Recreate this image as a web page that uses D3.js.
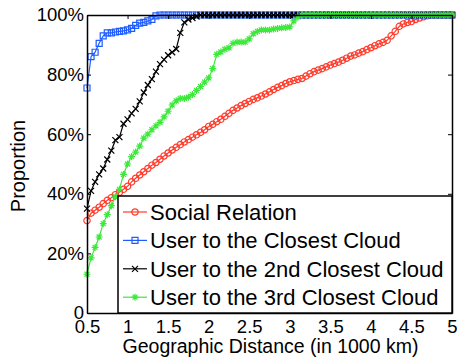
<!DOCTYPE html>
<html>
<head>
<meta charset="utf-8">
<script src="https://cdn.jsdelivr.net/npm/d3@7"></script>
<style>
  body { margin: 0; background: #fff; }
  text { font-family: "Liberation Sans", Arial, sans-serif; fill: #000; }
</style>
</head>
<body>
<div id="chart"></div>
<script>
// Data (distance in 1000 km, cumulative proportion)

const distance = [
  0.5, 0.55, 0.6, 0.65, 0.7, 0.75, 0.8, 0.85, 0.9, 0.95,
  1, 1.05, 1.1, 1.15, 1.2, 1.25, 1.3, 1.35, 1.4, 1.45,
  1.5, 1.55, 1.6, 1.65, 1.7, 1.75, 1.8, 1.85, 1.9, 1.95,
  2, 2.05, 2.1, 2.15, 2.2, 2.25, 2.3, 2.35, 2.4, 2.45,
  2.5, 2.55, 2.6, 2.65, 2.7, 2.75, 2.8, 2.85, 2.9, 2.95,
  3, 3.05, 3.1, 3.15, 3.2, 3.25, 3.3, 3.35, 3.4, 3.45,
  3.5, 3.55, 3.6, 3.65, 3.7, 3.75, 3.8, 3.85, 3.9, 3.95,
  4, 4.05, 4.1, 4.15, 4.2, 4.25, 4.3, 4.35, 4.4, 4.45,
  4.5, 4.55, 4.6, 4.65, 4.7, 4.75, 4.8, 4.85, 4.9, 4.95,
  5
];

const socialRelation = [
  0.31, 0.335, 0.345, 0.355, 0.367, 0.378, 0.387, 0.397, 0.405, 0.415,
  0.425, 0.44, 0.452, 0.463, 0.474, 0.485, 0.496, 0.505, 0.516, 0.527,
  0.537, 0.547, 0.556, 0.565, 0.574, 0.582, 0.59, 0.598, 0.606, 0.615,
  0.626, 0.633, 0.642, 0.65, 0.66, 0.67, 0.68, 0.688, 0.696, 0.703,
  0.71, 0.717, 0.722, 0.728, 0.735, 0.742, 0.75, 0.757, 0.763, 0.77,
  0.776, 0.78, 0.784, 0.787, 0.795, 0.803, 0.81, 0.815, 0.82, 0.826,
  0.832, 0.837, 0.842, 0.848, 0.855, 0.862, 0.866, 0.872, 0.877, 0.884,
  0.89, 0.897, 0.903, 0.908, 0.915, 0.93, 0.945, 0.962, 0.97, 0.975,
  0.978, 0.985, 0.99, 0.994, 0.998, 1, 1, 1, 1, 1,
  1
];

const closestCloud = [
  0.755, 0.86, 0.875, 0.905, 0.93, 0.94, 0.94, 0.943, 0.945, 0.947,
  0.95, 0.955, 0.965, 0.973, 0.975, 0.98, 0.985, 0.997, 1, 1,
  1, 1, 1, 1, 1, 1, 1, 1, 1, 1,
  1, 1, 1, 1, 1, 1, 1, 1, 1, 1,
  1, 1, 1, 1, 1, 1, 1, 1, 1, 1,
  1, 1, 1, 1, 1, 1, 1, 1, 1, 1,
  1, 1, 1, 1, 1, 1, 1, 1, 1, 1,
  1, 1, 1, 1, 1, 1, 1, 1, 1, 1,
  1, 1, 1, 1, 1, 1, 1, 1, 1, 1,
  1
];

const secondClosestCloud = [
  0.35, 0.41, 0.44, 0.465, 0.485, 0.515, 0.545, 0.58, 0.59, 0.635,
  0.65, 0.67, 0.685, 0.71, 0.74, 0.765, 0.785, 0.81, 0.835, 0.85,
  0.865, 0.875, 0.886, 0.94, 0.975, 0.985, 0.99, 0.995, 1, 1,
  1, 1, 1, 1, 1, 1, 1, 1, 1, 1,
  1, 1, 1, 1, 1, 1, 1, 1, 1, 1,
  1, 1, 1, 1, 1, 1, 1, 1, 1, 1,
  1, 1, 1, 1, 1, 1, 1, 1, 1, 1,
  1, 1, 1, 1, 1, 1, 1, 1, 1, 1,
  1, 1, 1, 1, 1, 1, 1, 1, 1, 1,
  1
];

const thirdClosestCloud = [
  0.13, 0.185, 0.22, 0.255, 0.3, 0.33, 0.36, 0.39, 0.415, 0.465,
  0.5, 0.525, 0.54, 0.56, 0.587, 0.6, 0.615, 0.628, 0.64, 0.658,
  0.677, 0.698, 0.712, 0.72, 0.72, 0.724, 0.733, 0.747, 0.76, 0.775,
  0.789, 0.82, 0.868, 0.876, 0.885, 0.89, 0.905, 0.909, 0.909, 0.909,
  0.92, 0.937, 0.945, 0.95, 0.95, 0.95, 0.953, 0.955, 0.957, 0.958,
  0.96, 0.98, 0.993, 1, 1, 1, 1, 1, 1, 1,
  1, 1, 1, 1, 1, 1, 1, 1, 1, 1,
  1, 1, 1, 1, 1, 1, 1, 1, 1, 1,
  1, 1, 1, 1, 1, 1, 1, 1, 1, 1,
  1
];

const seriesNames = [
  "Social Relation",
  "User to the Closest Cloud",
  "User to the 2nd Closest Cloud",
  "User to the 3rd Closest Cloud",
];
const xTicks = [0.5, 1, 1.5, 2, 2.5, 3, 3.5, 4, 4.5, 5];
const yTicks = [0, 0.2, 0.4, 0.6, 0.8, 1];

// Styles

const seriesValues = [socialRelation, closestCloud, secondClosestCloud, thirdClosestCloud];
const seriesColors = ["#ff3b2b", "#1f5cff", "#000000", "#3ce83a"];
const seriesMarkers = ["circle", "square", "times", "asterisk"];

function markerPath(type) {
  if (type === "circle") return d3.symbol(d3.symbolCircle, 32)();
  if (type === "square") return "M-3,-3H3V3H-3Z";
  if (type === "times") return "M-3,-3L3,3M-3,3L3,-3";
  return "M-3.5,0H3.5M0,-3.5V3.5M-2.5,-2.5L2.5,2.5M-2.5,2.5L2.5,-2.5";
}

// Core chart

const width = 457;
const height = 363;
const margin = { top: 15, right: 5, bottom: 50, left: 87 };

const svg = d3
  .select("#chart")
  .append("svg")
  .attr("width", width)
  .attr("height", height);

const xScale = d3
  .scaleLinear()
  .domain([0.5, 5])
  .range([margin.left, width - margin.right]);

const yScale = d3
  .scaleLinear()
  .domain([0, 1])
  .range([height - margin.bottom, margin.top]);

const line = d3
  .line()
  .x(function (d) { return xScale(d[0]); })
  .y(function (d) { return yScale(d[1]); });

seriesValues.forEach(function (values, i) {
  const points = distance.map(function (x, j) { return [x, values[j]]; });
  const g = svg.append("g");

  g.append("path")
    .datum(points)
    .attr("d", line)
    .attr("fill", "none")
    .attr("stroke", seriesColors[i])
    .attr("stroke-width", 1.2);

  g.selectAll("path.marker")
    .data(points)
    .enter()
    .append("path")
    .attr("class", "marker")
    .attr("transform", function (d) {
      return `translate(${xScale(d[0])},${yScale(d[1])})`;
    })
    .attr("d", markerPath(seriesMarkers[i]))
    .attr("fill", "none")
    .attr("stroke", seriesColors[i])
    .attr("stroke-width", 1.2);
});

// Axis (ticks point inward, box all round)

const yFormat = function (d) {
  return d === 0 ? "0" : Math.round(d * 100) + "%";
};

svg
  .append("g")
  .attr("transform", `translate(0, ${height - margin.bottom})`)
  .call(
    d3.axisBottom(xScale).tickValues(xTicks).tickSize(-4).tickSizeOuter(0).tickPadding(7)
      .tickFormat(function (d) { return String(d); })
  );

svg
  .append("g")
  .attr("transform", `translate(0, ${margin.top})`)
  .call(d3.axisTop(xScale).tickValues(xTicks).tickSize(-4).tickSizeOuter(0).tickFormat(""));

svg
  .append("g")
  .attr("transform", `translate(${margin.left}, 0)`)
  .call(d3.axisLeft(yScale).tickValues(yTicks).tickSize(-4).tickSizeOuter(0).tickPadding(3).tickFormat(yFormat));

svg
  .append("g")
  .attr("transform", `translate(${width - margin.right}, 0)`)
  .call(d3.axisRight(yScale).tickValues(yTicks).tickSize(-4).tickSizeOuter(0).tickFormat(""));

svg.selectAll(".domain").attr("stroke", "#000").attr("stroke-width", 1.5);
svg.selectAll(".tick line").attr("stroke", "#000").attr("stroke-width", 1);
svg.selectAll(".tick text")
  .style("font-family", '"Liberation Sans", Arial, sans-serif')
  .style("font-size", "18.5px")
  .attr("fill", "#000");

svg
  .append("text")
  .attr("x", (margin.left + width - margin.right) / 2 + 1)
  .attr("y", height - 10)
  .attr("text-anchor", "middle")
  .style("font-size", "19.5px")
  .text("Geographic Distance (in 1000 km)");

svg
  .append("text")
  .attr("transform", `translate(25, ${(margin.top + height - margin.bottom) / 2 + 2}) rotate(-90)`)
  .attr("text-anchor", "middle")
  .style("font-size", "20px")
  .text("Proportion");

// Legend

const legend = svg.append("g").attr("transform", "translate(118, 196)");

legend
  .append("rect")
  .attr("width", width - margin.right - 118)
  .attr("height", height - margin.bottom - 196)
  .attr("fill", "#fff")
  .attr("stroke", "#000")
  .attr("stroke-width", 1.5);

seriesNames.forEach(function (name, i) {
  const row = legend.append("g").attr("transform", `translate(0, ${16 + i * 28.4})`);
  row.append("line")
    .attr("x1", 5)
    .attr("x2", 29)
    .attr("stroke", seriesColors[i])
    .attr("stroke-width", 1.2);
  row.append("path")
    .attr("transform", "translate(17, 0)")
    .attr("d", markerPath(seriesMarkers[i]))
    .attr("fill", "none")
    .attr("stroke", seriesColors[i])
    .attr("stroke-width", 1.2);
  row.append("text")
    .attr("x", 32)
    .attr("dy", "0.36em")
    .style("font-size", "22px")
    .text(name);
});
</script>
</body>
</html>
